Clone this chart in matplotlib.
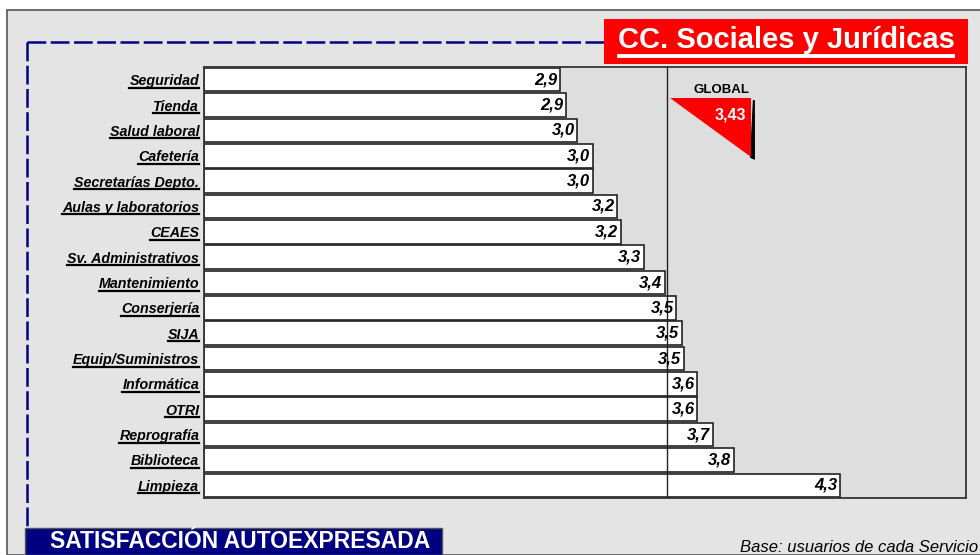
import matplotlib
matplotlib.use("Agg")
import matplotlib.pyplot as plt
from matplotlib import font_manager
from matplotlib.patches import Rectangle, Polygon
from matplotlib.lines import Line2D
from matplotlib.transforms import blended_transform_factory

plt.rcParams['font.family'] = ['Liberation Sans', 'DejaVu Sans']

servicios = ['Seguridad', 'Tienda', 'Salud laboral', 'Cafetería', 'Secretarías Depto.',
             'Aulas y laboratorios', 'CEAES', 'Sv. Administrativos', 'Mantenimiento',
             'Conserjería', 'SIJA', 'Equip/Suministros', 'Informática', 'OTRI',
             'Reprografía', 'Biblioteca', 'Limpieza']
valores = [2.87, 2.90, 2.96, 3.04, 3.04, 3.17, 3.19, 3.31, 3.42,
           3.48, 3.51, 3.52, 3.59, 3.59, 3.67, 3.78, 4.34]
global_val = 3.43
escala = (1, 5)

W, H = 980, 555
fig = plt.figure(figsize=(W / 100, H / 100), dpi=100)
fig.patch.set_facecolor('white')

nombres = {f.name for f in font_manager.fontManager.ttflist}
narrow = 'Liberation Sans Narrow' in nombres


def fx(px):
    return px / W


def fy(py):
    return 1 - py / H


# fondo gris con marco
fig.patches.append(Rectangle((fx(7), 0), 1, fy(10), transform=fig.transFigure,
                             facecolor='#e4e4e4', edgecolor='#555555', linewidth=1.2,
                             zorder=-10))

# linea discontinua azul
dash = dict(color='#000080', linewidth=1.8, linestyle=(0, (7.5, 1.8)), zorder=-5)
fig.lines.append(Line2D([fx(27), fx(604)], [fy(42), fy(42)], transform=fig.transFigure, **dash))
fig.lines.append(Line2D([fx(27), fx(27)], [fy(42), fy(528)], transform=fig.transFigure, **dash))

ax = fig.add_axes([fx(204), fy(498), fx(966) - fx(204), fy(67) - fy(498)])
ax.set_facecolor('#dedede')
for s in ax.spines.values():
    s.set_color('#333333')
    s.set_linewidth(1.3)

y = list(range(len(servicios)))
ax.barh(y, [v - escala[0] for v in valores], left=escala[0], height=0.93,
        color='white', edgecolor='#222222', linewidth=1.2, zorder=2)
ax.set_xlim(*escala)
ax.set_ylim(len(servicios) - 0.5, -0.5)
ax.axvline(global_val, color='#222222', linewidth=1.0, zorder=3)

for yi, v in zip(y, valores):
    ax.annotate(f'{v:.1f}'.replace('.', ','), (v, yi), xytext=(-2, 0),
                textcoords='offset points', ha='right', va='center',
                fontsize=12, fontweight='bold', fontstyle='italic', zorder=4)

ax.set_xticks([])
ax.set_yticks(y)
ax.set_yticklabels(servicios, fontsize=10.3, fontweight='bold', fontstyle='italic')
ax.tick_params(axis='y', length=0, pad=3.5)

# triangulo global
tr = blended_transform_factory(ax.transData, ax.transAxes)
ax_h = 498 - 67
t_top = 1 - (98 - 67) / ax_h
t_bot = 1 - (157 - 67) / ax_h
x0 = global_val + 3 / 190.25
x1 = global_val + 84 / 190.25
ax.add_patch(Polygon([(x1 + 0.015, t_top - 0.005), (x1 + 0.015, t_bot - 0.003), (x1, t_bot)],
                     closed=True, transform=tr, facecolor='black', edgecolor='black',
                     linewidth=1.5, zorder=5))
ax.add_patch(Polygon([(x0, t_top), (x1, t_top), (x1, t_bot)], closed=True, transform=tr,
                     facecolor='#ff0000', edgecolor='none', zorder=6))
ax.text((x0 + x1) / 2 + 0.06, t_top + 0.005, 'GLOBAL', transform=tr, ha='center', va='bottom',
        fontsize=9.5, fontweight='bold', zorder=6)
ax.text(x1 - 0.025, t_top - 0.04, f'{global_val:.2f}'.replace('.', ','), transform=tr,
        ha='right', va='center', fontsize=11.5, fontweight='bold', color='white', zorder=7)

# titulo
fig.patches.append(Rectangle((fx(604), fy(64)), fx(968) - fx(604), fy(19) - fy(64),
                             transform=fig.transFigure, facecolor='#ff0000', edgecolor='none'))
titulo = fig.text(fx(786), fy(40), 'CC. Sociales y Jurídicas', ha='center', va='center',
                  fontsize=21, fontweight='bold', color='white')

# caja inferior
fig.patches.append(Rectangle((fx(25), 0), fx(442) - fx(25), fy(528), transform=fig.transFigure,
                             facecolor='#000080', edgecolor='#555555', linewidth=1))
if narrow:
    fig.text(fx(240), fy(543), 'SATISFACCIÓN AUTOEXPRESADA', ha='center', va='center',
             fontsize=19.5, fontweight='bold', color='white',
             family=['Liberation Sans Narrow', 'Liberation Sans'])
    fig.text(fx(978), fy(547), 'Base: usuarios de cada Servicio', ha='right', va='center',
             fontsize=13.5, fontstyle='italic',
             family=['Liberation Sans Narrow', 'Liberation Sans'])
else:
    fig.text(fx(240), fy(542), 'SATISFACCIÓN AUTOEXPRESADA', ha='center', va='center',
             fontsize=16.5, fontweight='bold', color='white')
    fig.text(fx(978), fy(547), 'Base: usuarios de cada Servicio', ha='right', va='center',
             fontsize=12, fontstyle='italic')

# subrayados
fig.canvas.draw()
renderer = fig.canvas.get_renderer()
for lab in ax.get_yticklabels():
    bb = lab.get_window_extent(renderer)
    fig.lines.append(Line2D([bb.x0 / W, bb.x1 / W], [(bb.y0 + 0.5) / H] * 2,
                            transform=fig.transFigure, color='black', linewidth=1.6))
bb = titulo.get_window_extent(renderer)
fig.lines.append(Line2D([(bb.x0 + 1) / W, (bb.x1 - 1) / W], [(bb.y0 - 1.5) / H] * 2,
                        transform=fig.transFigure, color='white', linewidth=2.8))

fig.savefig('out.png', dpi=100, facecolor=fig.get_facecolor())
